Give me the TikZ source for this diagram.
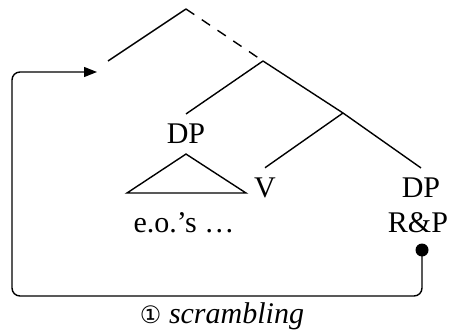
\documentclass[tikz,border=0pt]{standalone}
\usepackage{fontspec}
\setmainfont{Liberation Serif}
\newfontfamily\circfont{DejaVu Sans}
\usetikzlibrary{arrows.meta, positioning}

\begin{document}
\begin{tikzpicture}[x=1pt, y=-1pt,
    word/.style={inner xsep=1pt, inner ysep=10pt, font=\fontsize{30}{35}\selectfont},
    branch/.style={line width=1.4pt},
    gap/.style={line width=1.4pt, dash pattern=on 10pt off 9pt},
    move/.style={line width=1.4pt, rounded corners=8pt, -{Triangle[length=13pt, width=10pt]}}
]
\useasboundingbox (0,0) rectangle (450,332);

% tree
\coordinate (top) at (186,9);
\coordinate (spec) at (108,61);
\coordinate (vbar) at (263,61);
\coordinate (vp) at (343,113);
\node[word] (dpl) at (186,134) {DP};
\node[word] (verb) at (265,188) {V};
\node[word] (dpr) at (421,188) {DP};
\node[word, inner ysep=0pt] (rp) at (418,223) {R\&P};
\node[word, inner ysep=0pt] (eos) at (184,223) {e.o.’s …};

\draw[branch] (top) -- (spec);
\draw[gap] (top) -- (vbar);
\draw[branch] (vbar) -- (dpl.north);
\draw[branch] (vbar) -- (vp);
\draw[branch] (vp) -- (verb.north);
\draw[branch] (vp) -- (dpr.north);
\draw[branch] (dpl.south) -- (127,193) -- (246,193) -- cycle;

% movement
\coordinate (dot) at (422,250);
\coordinate (tgt) at (97,72);
\coordinate (bend) at (12,296);
\fill (dot) circle (6.5pt);
\draw[move] (dot) |- (bend) |- (tgt);
\node[word, inner ysep=0pt] (lab) at (222,316) {{\circfont\fontsize{24}{28}\selectfont ①} \textit{scrambling}};
\end{tikzpicture}
\end{document}
